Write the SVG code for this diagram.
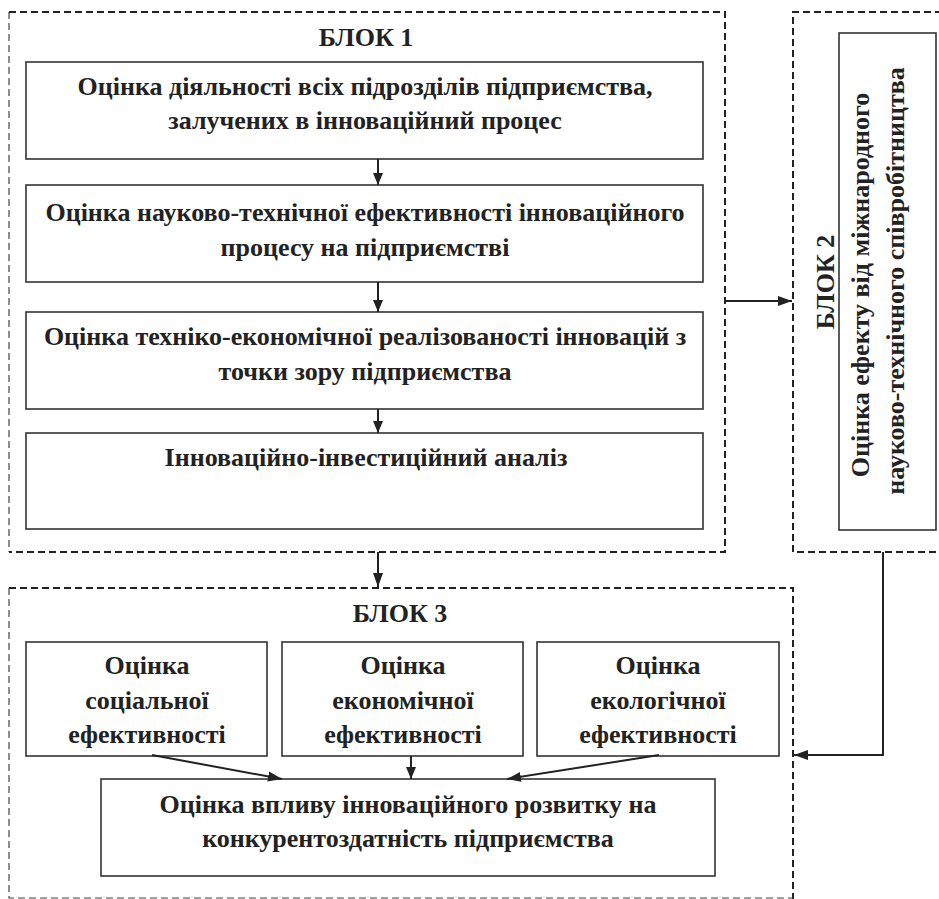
<svg xmlns="http://www.w3.org/2000/svg" width="939" height="899" viewBox="0 0 939 899">
<defs>
<style>
.box{fill:#fff;stroke:#333;stroke-width:1.6}
.dash{fill:none;stroke:#222;stroke-width:2;stroke-dasharray:7 4}
.dthin{fill:none;stroke:#444;stroke-width:1.2;stroke-dasharray:7 4}
.t{font-family:"Liberation Serif","Times New Roman",serif;font-weight:bold;font-size:26px;fill:#222;text-anchor:middle}
.ttl{font-size:26px}
.c{fill:none;stroke:#222;stroke-width:2}
</style>
<marker id="ah" viewBox="0 0 12 12" refX="12" refY="6" markerWidth="12" markerHeight="12" markerUnits="userSpaceOnUse" orient="auto">
<path d="M0,1 L12,6 L0,11 Z" fill="#222"/>
</marker>
<marker id="ah2" viewBox="0 0 14 12" refX="14" refY="6" markerWidth="14" markerHeight="12" markerUnits="userSpaceOnUse" orient="auto">
<path d="M0,1 L14,6 L0,11 Z" fill="#222"/>
</marker>
</defs>
<rect width="939" height="899" fill="#fff"/>

<g id="block1">
<path class="dthin" d="M9,12 V552"/>
<path class="dash" d="M9,12 H725 V552 H9"/>
<text class="t ttl" x="366" y="46">БЛОК 1</text>
</g>
<g id="block2">
<path class="dash" d="M942,12 H793 V552 H942"/>
</g>
<g id="block3">
<path class="dash" d="M9,588 H793 V899"/>
<path class="dthin" d="M9,588 V898 H793"/>
<text class="t ttl" x="400" y="622">БЛОК 3</text>
</g>

<g id="n1">
<rect class="box" x="26" y="62" width="677" height="97"/>
<text class="t" x="365" y="95">Оцінка діяльності всіх підрозділів підприємства,</text>
<text class="t" x="365" y="129">залучених в інноваційний процес</text>
</g>
<g id="n2">
<rect class="box" x="26" y="185" width="677" height="97"/>
<text class="t" x="365" y="221">Оцінка науково-технічної ефективності інноваційного</text>
<text class="t" x="365" y="256">процесу на підприємстві</text>
</g>
<g id="n3">
<rect class="box" x="26" y="312" width="677" height="97"/>
<text class="t" x="365" y="345">Оцінка техніко-економічної реалізованості інновацій з</text>
<text class="t" x="365" y="380">точки зору підприємства</text>
</g>
<g id="n4">
<rect class="box" x="26" y="433" width="677" height="96"/>
<text class="t" x="366" y="466">Інноваційно-інвестиційний аналіз</text>
</g>
<g id="n5">
<rect class="box" x="839" y="33" width="97" height="497"/>
<text class="t ttl" transform="translate(834,282) rotate(-90)" x="0" y="0">БЛОК 2</text>
<text class="t" transform="translate(869,285) rotate(-90)" x="0" y="0">Оцінка ефекту від міжнародного</text>
<text class="t" transform="translate(904,281) rotate(-90)" x="0" y="0">науково-технічного співробітництва</text>
</g>
<g id="n6">
<rect class="box" x="26" y="642" width="241" height="114"/>
<text class="t" x="147" y="674">Оцінка</text>
<text class="t" x="147" y="709">соціальної</text>
<text class="t" x="147" y="743">ефективності</text>
</g>
<g id="n7">
<rect class="box" x="282" y="642" width="241" height="114"/>
<text class="t" x="403" y="674">Оцінка</text>
<text class="t" x="403" y="709">економічної</text>
<text class="t" x="403" y="743">ефективності</text>
</g>
<g id="n8">
<rect class="box" x="537" y="642" width="242" height="114"/>
<text class="t" x="658" y="674">Оцінка</text>
<text class="t" x="658" y="709">екологічної</text>
<text class="t" x="658" y="743">ефективності</text>
</g>
<g id="n9">
<rect class="box" x="101" y="779" width="614" height="97"/>
<text class="t" x="408" y="813">Оцінка впливу інноваційного розвитку на</text>
<text class="t" x="408" y="847">конкурентоздатність підприємства</text>
</g>

<g id="connectors">
<line class="c" x1="378" y1="159" x2="378" y2="185" marker-end="url(#ah)"/>
<line class="c" x1="378" y1="282" x2="378" y2="312" marker-end="url(#ah)"/>
<line class="c" x1="378" y1="409" x2="378" y2="433" marker-end="url(#ah)"/>
<line class="c" x1="378" y1="552" x2="378" y2="587" marker-end="url(#ah2)"/>
<line class="c" x1="725" y1="301" x2="792" y2="301" marker-end="url(#ah2)"/>
<polyline class="c" points="883,552 883,755 794,755" marker-end="url(#ah2)"/>
<line class="c" x1="152" y1="755" x2="282" y2="779" marker-end="url(#ah2)"/>
<line class="c" x1="411" y1="756" x2="411" y2="779" marker-end="url(#ah)"/>
<line class="c" x1="659" y1="755" x2="507" y2="779" marker-end="url(#ah2)"/>
</g>
</svg>
